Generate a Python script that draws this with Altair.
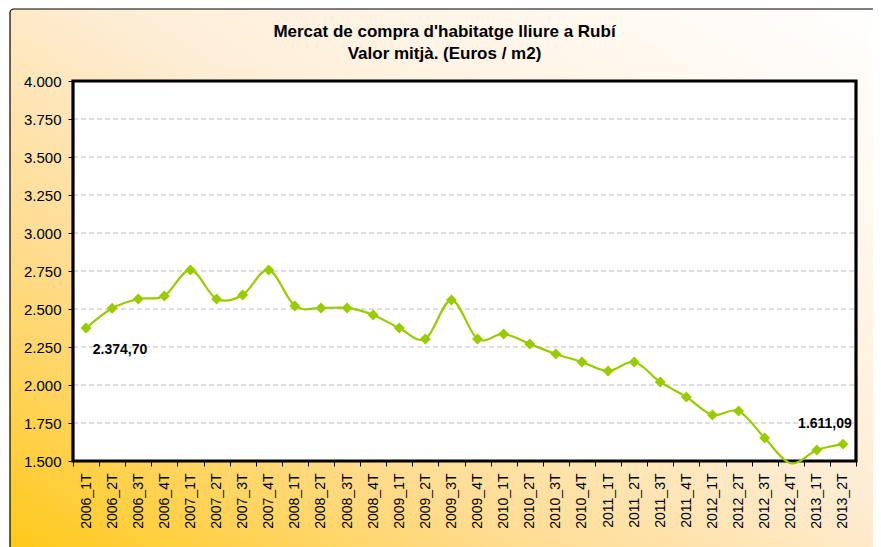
import altair as alt
import pandas as pd

periods = ["2006_1T", "2006_2T", "2006_3T", "2006_4T",
           "2007_1T", "2007_2T", "2007_3T", "2007_4T",
           "2008_1T", "2008_2T", "2008_3T", "2008_4T",
           "2009_1T", "2009_2T", "2009_3T", "2009_4T",
           "2010_1T", "2010_2T", "2010_3T", "2010_4T",
           "2011_1T", "2011_2T", "2011_3T", "2011_4T",
           "2012_1T", "2012_2T", "2012_3T", "2012_4T",
           "2013_1T", "2013_2T"]
values = [2374.70, 2505, 2566, 2586,
          2757, 2566, 2592, 2757,
          2520, 2507, 2507, 2461,
          2375, 2303, 2559, 2303,
          2336, 2270, 2204, 2151,
          2092, 2151, 2020, 1921,
          1803, 1829, 1651, 1485,
          1572, 1611.09]
label_texts = ["2.374,70"] + [""] * 28 + ["1.611,09"]
y_ticks = [1500, 1750, 2000, 2250, 2500, 2750, 3000, 3250, 3500, 3750, 4000]
grid_vals = y_ticks[1:-1]
title_lines = ["Mercat de compra d'habitatge lliure a Rubí", "Valor mitjà. (Euros / m2)"]

W, H = 783, 380
GREEN = "#99CC00"
FONT = "Liberation Sans"

df = pd.DataFrame({"periode": periods, "valor": values, "etiqueta": label_texts})
grid_df = pd.DataFrame({"valor": grid_vals})
one = pd.DataFrame({"a": [0]})

x_enc = alt.X("periode:N", sort=periods, title="",
              scale=alt.Scale(type="band", paddingInner=0, paddingOuter=0),
              axis=alt.Axis(labelAngle=-90, tickBand="extent", tickSize=5,
                            tickColor="black", domain=False, grid=False,
                            labelFont=FONT, labelFontSize=14, labelColor="black",
                            labelPadding=7, zindex=1))
y_enc = alt.Y("valor:Q", title="",
              scale=alt.Scale(domain=[1500, 4000], nice=False, zero=False),
              axis=alt.Axis(values=y_ticks, tickSize=5, tickColor="black",
                            domain=False, grid=False,
                            labelExpr="replace(format(datum.value, ',.0f'), ',', '.')",
                            labelFont=FONT, labelFontSize=15, labelColor="black",
                            labelPadding=7, zindex=1))

bg = alt.Chart(one).mark_rect(
    fill=alt.LinearGradient(
        gradient="linear",
        stops=[alt.GradientStop(offset=0, color="#FFC814"),
               alt.GradientStop(offset=0.3, color="#FFDC90"),
               alt.GradientStop(offset=0.55, color="#FEEDD5"),
               alt.GradientStop(offset=0.8, color="#FFF8EE"),
               alt.GradientStop(offset=1, color="#FFFFFF")],
        x1=0, y1=1, x2=1, y2=0),
    stroke="black", strokeWidth=1.2, cornerRadius=4
).encode(x=alt.value(-63), x2=alt.value(W + 30), y=alt.value(-72), y2=alt.value(H + 100))

white = alt.Chart(one).mark_rect(fill="white").encode(
    x=alt.value(0), x2=alt.value(W), y=alt.value(0), y2=alt.value(H))

grid = alt.Chart(grid_df).mark_rule(color="#BFBFBF", strokeWidth=1, strokeDash=[5, 3]).encode(
    y=y_enc, x=alt.value(0), x2=alt.value(W))

frame = alt.Chart(one).mark_rect(fill="white", fillOpacity=0, stroke="black", strokeWidth=3.2).encode(
    x=alt.value(0), x2=alt.value(W), y=alt.value(0), y2=alt.value(H))

line = alt.Chart(df).mark_line(color=GREEN, strokeWidth=2.2, interpolate="cardinal").encode(
    x=x_enc, y=y_enc)

pts = alt.Chart(df).transform_filter("datum.valor >= 1500").mark_point(
    shape="diamond", filled=True, color=GREEN, size=120, opacity=1).encode(x=x_enc, y=y_enc)

lab_first = alt.Chart(df).transform_filter("datum.periode == '2006_1T'").mark_text(
    font=FONT, fontSize=14, fontWeight="bold", color="black", dx=34, dy=22).encode(
    x=x_enc, y=y_enc, text="etiqueta:N")

lab_last = alt.Chart(df).transform_filter("datum.periode == '2013_2T'").mark_text(
    font=FONT, fontSize=14, fontWeight="bold", color="black", dx=-18, dy=-20).encode(
    x=x_enc, y=y_enc, text="etiqueta:N")

title1 = alt.Chart(one).mark_text(
    font=FONT, fontSize=17, fontWeight="bold", color="black", align="center", baseline="alphabetic"
).encode(x=alt.value(W / 2 - 20), y=alt.value(-44), text=alt.value(title_lines[0]))

title2 = alt.Chart(one).mark_text(
    font=FONT, fontSize=17, fontWeight="bold", color="black", align="center", baseline="alphabetic"
).encode(x=alt.value(W / 2 - 20), y=alt.value(-22), text=alt.value(title_lines[1]))

chart = alt.layer(bg, white, grid, frame, line, pts, lab_first, lab_last, title1, title2).properties(
    width=W, height=H,
    padding={"left": 65, "top": 73, "right": 17, "bottom": 86},
    autosize="none",
).configure_view(strokeWidth=0)

chart.save("out.html", embed_options={"renderer": "svg", "actions": False})
